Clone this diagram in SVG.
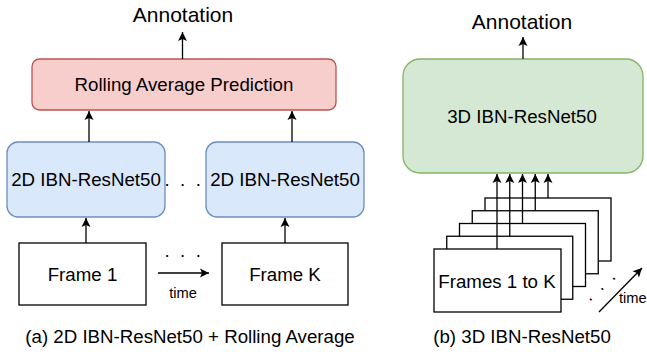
<svg xmlns="http://www.w3.org/2000/svg" width="647" height="354" viewBox="0 0 647 354">
<style>
text{font-family:"Liberation Sans",Arial,sans-serif;fill:#000}
.t{font-size:18.7px;text-anchor:middle}
.ann{font-size:21px;text-anchor:middle}
.sm{font-size:14.7px}
.frame{fill:#fff;stroke:#000;stroke-width:1.3}
.red{fill:#f8cecc;stroke:#b85450;stroke-width:1.3}
.blue{fill:#dae8fc;stroke:#6c8ebf;stroke-width:1.3}
.green{fill:#d5e8d4;stroke:#82b366;stroke-width:1.3}
.c{fill:none;stroke:#000;stroke-width:1.3;marker-end:url(#ah)}
</style>
<defs>
<marker id="ah" viewBox="-10 -5 10 10" refX="0" refY="0" markerWidth="10" markerHeight="10" markerUnits="userSpaceOnUse" orient="auto">
<path d="M0,0 L-9,-4.5 L-7,0 L-9,4.5 Z" fill="#000"/>
</marker>
</defs>
<rect width="647" height="354" fill="#fff"/>

<g id="annotation-a"><text class="ann" x="183" y="22">Annotation</text></g>
<g id="rolling"><rect class="red" x="32" y="59" width="304" height="51" rx="7.6"/><text class="t" x="184" y="91">Rolling Average Prediction</text></g>
<g id="ibn2d-1"><rect class="blue" x="7" y="142" width="158" height="75" rx="11"/><text class="t" x="86" y="186">2D IBN-ResNet50</text></g>
<g id="ibn2d-k"><rect class="blue" x="206" y="142" width="158" height="75" rx="11"/><text class="t" x="285" y="186">2D IBN-ResNet50</text></g>
<g id="dots-a1"><text class="t" x="184" y="186" letter-spacing="2.6">. . .</text></g>
<g id="frame-1"><rect class="frame" x="19" y="243" width="127" height="62"/><text class="t" x="82.5" y="281">Frame 1</text></g>
<g id="frame-k"><rect class="frame" x="222" y="243" width="126" height="62"/><text class="t" x="285" y="281">Frame K</text></g>
<g id="dots-a2"><text class="t" x="184" y="257" letter-spacing="2.6">. . .</text></g>
<g id="time-a"><text class="sm" x="183" y="298" text-anchor="middle">time</text></g>
<g id="caption-a"><text class="t" x="190" y="343">(a) 2D IBN-ResNet50 + Rolling Average</text></g>

<g id="annotation-b"><text class="ann" x="522" y="29">Annotation</text></g>
<g id="ibn3d"><rect class="green" x="403" y="59" width="240" height="114" rx="17"/><text class="t" x="522" y="123">3D IBN-ResNet50</text></g>
<g id="frames-stack">
<rect class="frame" x="485" y="198" width="126" height="63"/>
<rect class="frame" x="472.25" y="210.75" width="126" height="63"/>
<rect class="frame" x="459.5" y="223.5" width="126" height="63"/>
<rect class="frame" x="446.75" y="236.25" width="126" height="63"/>
<rect class="frame" x="434" y="249" width="127" height="63"/>
<text class="t" x="497" y="288">Frames 1 to K</text>
</g>
<g id="dots-b"><text class="t" x="0" y="0" letter-spacing="2.6" transform="translate(604,289) rotate(-42)">. . .</text></g>
<g id="time-b"><text class="sm" x="619" y="303">time</text></g>
<g id="caption-b"><text class="t" x="522" y="343">(b) 3D IBN-ResNet50</text></g>

<g id="connectors">
<line class="c" x1="182.5" y1="59" x2="182.5" y2="32"/>
<line class="c" x1="89" y1="142" x2="89" y2="111"/>
<line class="c" x1="292" y1="142" x2="292" y2="111"/>
<line class="c" x1="86" y1="243" x2="86" y2="218"/>
<line class="c" x1="285" y1="243" x2="285" y2="218"/>
<line class="c" x1="158" y1="273" x2="209" y2="273"/>
<line class="c" x1="523" y1="59" x2="523" y2="37"/>
<line class="c" x1="497" y1="249" x2="497" y2="174"/>
<line class="c" x1="509.75" y1="236.25" x2="509.75" y2="174"/>
<line class="c" x1="522.5" y1="223.5" x2="522.5" y2="174"/>
<line class="c" x1="535.25" y1="210.75" x2="535.25" y2="174"/>
<line class="c" x1="548" y1="198" x2="548" y2="174"/>
<line class="c" x1="599" y1="312" x2="642" y2="268"/>
</g>
</svg>
